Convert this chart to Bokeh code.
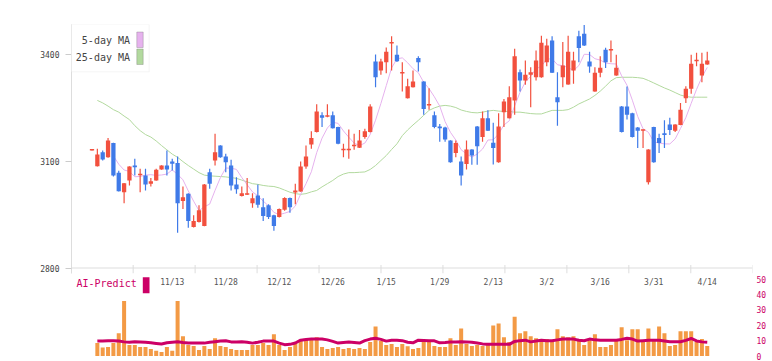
import pandas as pd
from bokeh.plotting import figure
from bokeh.models import Range1d, FixedTicker, LinearAxis, Label, BoxAnnotation, ColumnDataSource, Span
from bokeh.layouts import column
from bokeh.embed import file_html
from bokeh.resources import INLINE
from bokeh.core.properties import value

NAN = float("nan")

# ---------------- data ----------------
opens = [3131, 3086, 3125, 3111, 3151, 3068, 3013, 3046, 3088, 3062,
         3060, 3037, 3046, 3077, 3088, 3099, 3095, 2988, 3009, 2915,
         2929, 2918, 3069, 3102, 3144, 3113, 3088, 3035, 3002, 3006,
         2982, 3004, 2971, 2976, 2948, 2943, 2964, 2997, 3012, 3015,
         3085, 3147, 3182, 3229, 3226, 3229, 3196, 3132, 3132, 3143,
         3138, 3168, 3182, 3380, 3355, 3378, 3432, 3399, 3348, 3277,
         3308, 3390, 3324, 3258, 3229, 3198, 3195, 3158, 3123, 3099,
         3092, 3133, 3198, 3168, 3221, 3152, 3097, 3238, 3221, 3271,
         3350, 3327, 3343, 3336, 3336, 3378, 3439, 3280, 3336, 3316,
         3355, 3451, 3458, 3380, 3296, 3349, 3413, 3412, 3341, 3254,
         3254, 3235, 3195, 3187, 3041, 3196, 3165, 3179, 3203, 3186,
         3202, 3277, 3304, 3382, 3341, 3372]
highs = [3134, 3135, 3130, 3165, 3152, 3073, 3039, 3086, 3107, 3079,
         3079, 3053, 3079, 3089, 3130, 3107, 3113, 3029, 3010, 2948,
         2976, 3036, 3079, 3177, 3145, 3121, 3104, 3055, 3029, 3053,
         3010, 3035, 2996, 2979, 2950, 2967, 2999, 2998, 3037, 3099,
         3144, 3184, 3260, 3238, 3260, 3240, 3197, 3149, 3189, 3177,
         3188, 3191, 3260, 3400, 3388, 3420, 3451, 3425, 3378, 3332,
         3355, 3395, 3325, 3305, 3240, 3205, 3197, 3159, 3158, 3113,
         3158, 3134, 3199, 3240, 3243, 3208, 3235, 3275, 3311, 3416,
         3358, 3383, 3364, 3411, 3453, 3444, 3451, 3350, 3435, 3453,
         3408, 3467, 3483, 3408, 3364, 3395, 3419, 3439, 3399, 3255,
         3310, 3236, 3196, 3189, 3134, 3197, 3177, 3215, 3222, 3204,
         3264, 3311, 3399, 3405, 3405, 3408]
lows = [3130, 3085, 3102, 3110, 3057, 3015, 2982, 3032, 3060, 3013,
        3018, 3029, 3045, 3076, 3060, 3074, 2899, 2966, 2913, 2914,
        2928, 2917, 3023, 3088, 3110, 3069, 3018, 3009, 3001, 3005,
        2969, 2969, 2932, 2938, 2905, 2942, 2961, 2955, 2979, 3014,
        3079, 3135, 3181, 3196, 3224, 3192, 3148, 3111, 3107, 3132,
        3137, 3163, 3181, 3308, 3343, 3347, 3355, 3379, 3296, 3276,
        3307, 3352, 3231, 3245, 3193, 3155, 3155, 3096, 3111, 3032,
        3077, 3090, 3090, 3155, 3185, 3091, 3096, 3196, 3220, 3231,
        3296, 3315, 3252, 3327, 3335, 3367, 3348, 3200, 3308, 3315,
        3318, 3378, 3424, 3349, 3295, 3336, 3362, 3378, 3340, 3181,
        3217, 3167, 3137, 3137, 3035, 3096, 3123, 3137, 3174, 3182,
        3201, 3264, 3290, 3367, 3322, 3371]
closes = [3133, 3119, 3105, 3158, 3060, 3016, 3038, 3085, 3083, 3064,
          3035, 3044, 3076, 3088, 3077, 3093, 2982, 2999, 2932, 2932,
          2962, 3035, 3037, 3125, 3111, 3097, 3032, 3021, 3010, 3010,
          2996, 2978, 2946, 2943, 2918, 2966, 2997, 2971, 3018, 3085,
          3113, 3165, 3240, 3222, 3228, 3193, 3149, 3134, 3134, 3145,
          3158, 3184, 3254, 3336, 3380, 3408, 3434, 3381, 3350, 3311,
          3324, 3378, 3247, 3260, 3196, 3193, 3161, 3097, 3151, 3060,
          3133, 3116, 3142, 3221, 3186, 3137, 3198, 3268, 3280, 3395,
          3327, 3343, 3350, 3383, 3433, 3425, 3349, 3266, 3369, 3408,
          3383, 3418, 3425, 3366, 3349, 3363, 3378, 3414, 3363, 3182,
          3231, 3168, 3186, 3189, 3133, 3097, 3151, 3174, 3188, 3203,
          3245, 3304, 3374, 3384, 3374, 3383]
ma25 = [NAN, 3271, 3264, 3255, 3245, 3238, 3227, 3217, 3200, 3186,
        3175, 3168, 3157, 3144, 3132, 3120, 3111, 3099, 3088, 3078,
        3068, 3061, 3059, 3058, 3057, 3056, 3054, 3052, 3047, 3042,
        3037, 3035, 3032, 3030, 3029, 3025, 3019, 3013, 3009, 3007,
        3009, 3014, 3018, 3028, 3037, 3046, 3057, 3064, 3068, 3068,
        3069, 3070, 3077, 3088, 3102, 3116, 3133, 3149, 3172, 3188,
        3202, 3215, 3229, 3243, 3250, 3255, 3257, 3255, 3251, 3244,
        3240, 3237, 3236, 3238, 3241, 3243, 3241, 3240, 3240, 3238,
        3238, 3236, 3234, 3233, 3233, 3238, 3243, 3243, 3243, 3245,
        3252, 3261, 3268, 3275, 3285, 3297, 3311, 3326, 3335, 3336,
        3336, 3336, 3335, 3333, 3327, 3320, 3313, 3306, 3300, 3293,
        3286, 3282, 3280, 3280, 3280, 3280]
volume = [NAN, 8.4, 5.5, 5.9, 8.4, 14.8, 35.7, 7.2, 7.2, 5.9,
          5.9, 4.6, 3.4, 2.7, 5.9, 3.4, 35.7, 12.9, 7.2, 6.5,
          4.0, 6.5, 4.6, 11.6, 6.5, 5.9, 4.6, 4.0, 4.0, 4.0,
          7.2, 7.2, 8.4, 7.2, 14.1, 7.2, 4.0, 5.9, 8.4, 9.7,
          11.0, 11.0, 12.2, 5.9, 4.6, 5.3, 5.9, 4.6, 5.3, 4.6,
          5.3, 4.6, 9.1, 19.2, 9.7, 7.2, 7.8, 5.9, 7.8, 6.3,
          4.6, 5.3, 9.3, 9.3, 6.5, 5.9, 5.9, 11.6, 7.2, 17.9,
          7.8, 6.5, 7.2, 6.5, 7.8, 19.8, 21.1, 12.2, 9.1, 25.5,
          14.8, 16.0, 12.9, 11.6, 11.0, 11.0, 9.7, 17.3, 12.9, 12.2,
          12.9, 10.3, 7.2, 10.3, 14.1, 5.9, 5.9, 7.2, 9.7, 18.6,
          10.3, 17.3, 17.3, 10.3, 17.9, 9.7, 19.2, 14.8, 6.5, 7.2,
          16.0, 16.0, 16.0, 9.1, 11.0, 6.5]
ai_predict = [NAN, 9.7, 9.8, 9.9, 9.9, 9.7, 9.2, 8.9, 9.3, 9.1,
              8.9, 8.6, 8.2, 7.8, 8.6, 9.0, 9.3, 8.8, 8.4, 8.4,
              8.4, 8.4, 8.9, 9.3, 9.7, 9.9, 9.2, 9.1, 9.3, 9.0,
              8.4, 9.0, 9.7, 9.7, 9.7, 8.4, 7.4, 7.6, 8.5, 10.3,
              10.8, 11.0, 11.0, 11.0, 10.5, 9.5, 8.4, 8.8, 9.1, 8.8,
              8.4, 10.0, 11.0, 11.6, 10.8, 9.7, 10.3, 10.2, 10.0, 9.0,
              8.6, 10.3, 10.1, 9.9, 9.9, 8.6, 8.8, 9.1, 9.2, 9.3,
              9.2, 8.9, 8.5, 7.9, 7.7, 7.6, 7.6, 7.6, 7.6, 9.5,
              10.0, 10.3, 9.2, 9.8, 10.3, 10.0, 9.9, 10.5, 11.0, 11.0,
              11.0, 10.2, 9.9, 11.0, 10.5, 10.3, 10.3, 10.3, 10.3, 10.8,
              11.6, 11.0, 9.7, 10.0, 10.3, 10.3, 10.3, 9.8, 9.3, 9.3,
              9.3, 10.2, 11.4, 9.8, 9.2, 9.0]
date_labels = ["11/13", "11/28", "12/12", "12/26", "1/15", "1/29",
               "2/13", "3/2", "3/16", "3/31", "4/14"]
date_label_index = [15, 25, 35, 45, 55, 65, 75, 85, 95, 105, 115]
price_ticks = [2800, 3100, 3400]
volume_ticks = [0, 10, 20, 30, 40, 50]

# ---------------- styles / geometry (page pixels; Bokeh page has no margin) ----------------
UP = "#f2503e"
DOWN = "#3f7ae8"
MA5_COLOR = "#e6b2ee"
MA25_COLOR = "#b2d99e"
VOL_COLOR = "#f39a45"
AI_COLOR = "#cc0066"
AXIS_GREY = "#dddddd"
MONO = "DejaVu Sans Mono"

FIG_W = 772
A_H, B_H = 275, 86
FRAME_L, FRAME_R = 71, 752
BL, BR = FRAME_L, FIG_W - FRAME_R
X0_PX, DX_PX = 91.5, 5.35            # px of first candle, px per trading day
A_TOP, A_BOT = 24, 273               # main frame rows (frame runs a tick below the base line)
BASE_PY = 267.5                      # row of the 2800 base line
P_REF, P_REF_PY = 3400, 54
P_SCALE = (BASE_PY - P_REF_PY) / 600.0
B_TOP = A_H
V0_PY, V50_PY = 355.6, 278.3
V_SCALE = (V0_PY - V50_PY) / 50.0
TICK_STEP = 61.96


def px_x(px):
    return (px - X0_PX) / DX_PX


def py_price(py):
    return P_REF - (py - P_REF_PY) / P_SCALE


def py_vol(py):
    return (V0_PY - py) / V_SCALE


n = len(closes)
idx = list(range(n))
ma5 = pd.Series(closes).rolling(5).mean().tolist()

x_range = Range1d(px_x(FRAME_L), px_x(FRAME_R))

# ---------------- main price figure ----------------
p = figure(width=FIG_W, height=A_H, x_range=x_range,
           y_range=Range1d(py_price(A_BOT), py_price(A_TOP)),
           output_backend="svg", toolbar_location=None,
           min_border_left=BL, min_border_right=BR,
           min_border_top=A_TOP, min_border_bottom=A_H - A_BOT,
           x_axis_location=None, y_axis_location=None)
p.outline_line_color = None
p.grid.visible = False
p.background_fill_color = "white"

yax = LinearAxis(ticker=FixedTicker(ticks=price_ticks))
yax.axis_line_color = AXIS_GREY
yax.major_tick_line_color = "#cccccc"
yax.major_tick_out = 6
yax.major_tick_in = 0
yax.minor_tick_line_color = None
yax.major_label_standoff = 6
yax.major_label_text_font = MONO
yax.major_label_text_font_size = "8px"
yax.major_label_text_color = "#444444"
p.add_layout(yax, "left")

# base line and its ticks
p.add_layout(Span(location=price_ticks[0], dimension="width", line_color=AXIS_GREY, line_width=1))
tick_x = [px_x(FRAME_L - 0.3 + k * TICK_STEP) for k in range(1, 12)]
p.segment(x0=tick_x, x1=tick_x, y0=[py_price(264.5)] * len(tick_x), y1=[py_price(A_BOT)] * len(tick_x),
          line_color=AXIS_GREY, line_width=1)

# moving averages
p.line(idx, ma25, color=MA25_COLOR, line_width=1)
p.line(idx, ma5, color=MA5_COLOR, line_width=1)

# candles
min_body = 1.5 / P_SCALE
tops, bots, cols = [], [], []
for o, c in zip(opens, closes):
    t, b = max(o, c), min(o, c)
    if t - b < min_body:
        mid = (t + b) / 2.0
        t, b = mid + min_body / 2.0, mid - min_body / 2.0
    tops.append(t)
    bots.append(b)
    cols.append(UP if c >= o else DOWN)
src = ColumnDataSource(dict(x=idx, high=highs, low=lows, top=tops, bottom=bots, color=cols))
p.segment(x0="x", y0="low", x1="x", y1="high", color="color", line_width=1.2, source=src)
p.vbar(x="x", width=0.8, top="top", bottom="bottom", fill_color="color",
       line_color=None, source=src)

# legend box (text then swatch, as in the reference)
p.add_layout(BoxAnnotation(left=px_x(70.7), right=px_x(148.7), top=py_price(24), bottom=py_price(71.3),
                           fill_color="white", fill_alpha=1.0, line_color=AXIS_GREY, line_width=1))
for name, col, cy in [("5-day MA", MA5_COLOR, 39.5), ("25-day MA", MA25_COLOR, 56.5)]:
    p.add_layout(Label(x=px_x(129.5), y=py_price(cy), text=name, text_align="right",
                       text_baseline="middle", text_font=MONO, text_font_size="10px",
                       text_color="#444444"))
    p.add_layout(BoxAnnotation(left=px_x(136.3), right=px_x(142.7), top=py_price(cy - 8), bottom=py_price(cy + 7.5),
                               fill_color=col, fill_alpha=1.0, line_color="#666666", line_width=1))

# header texts
p.add_layout(Label(x=px_x(14), y=py_price(12.5), text="(C)https://chartnavi.com/", text_align="left",
                   text_baseline="middle", text_font=MONO, text_font_size="10px",
                   text_color="#c8c8c8"))
p.add_layout(Label(x=px_x(757.5), y=py_price(12.5), text="9790", text_align="right",
                   text_baseline="middle", text_font=MONO, text_font_size="10px",
                   text_color="#bbbbbb"))

# ---------------- volume / AI-Predict figure ----------------
q = figure(width=FIG_W, height=B_H, x_range=x_range,
           y_range=Range1d(py_vol(B_TOP + B_H), py_vol(B_TOP)),
           output_backend="svg", toolbar_location=None,
           min_border_left=BL, min_border_right=BR, min_border_top=0, min_border_bottom=0,
           x_axis_location=None, y_axis_location=None)
q.outline_line_color = None
q.grid.visible = False

vax = LinearAxis(ticker=FixedTicker(ticks=volume_ticks))
vax.axis_line_color = None
vax.major_tick_line_color = None
vax.minor_tick_line_color = None
vax.major_tick_out = 0
vax.major_tick_in = 0
vax.major_label_standoff = 4
vax.major_label_text_font = MONO
vax.major_label_text_font_size = "8px"
vax.major_label_text_color = AI_COLOR
q.add_layout(vax, "right")

q.vbar(x=idx, top=volume, bottom=0, width=0.75, fill_color=VOL_COLOR, line_color=None)
q.line(idx, ai_predict, color=AI_COLOR, line_width=3)

q.text(x=date_label_index, y=[py_vol(282)] * len(date_label_index), text=date_labels,
       text_align="center", text_baseline="middle", text_font=value(MONO),
       text_font_size="8px", text_color="#555555")

q.add_layout(Label(x=px_x(76), y=py_vol(282.5), text="AI-Predict", text_align="left",
                   text_baseline="middle", text_font=MONO, text_font_size="10px",
                   text_color=AI_COLOR))
q.add_layout(BoxAnnotation(left=px_x(142.3), right=px_x(149), top=py_vol(276.7), bottom=py_vol(292.7),
                           fill_color=AI_COLOR, fill_alpha=1.0, line_color=None))

layout = column(p, q, spacing=0)
open("out.html", "w").write(file_html(layout, INLINE))
